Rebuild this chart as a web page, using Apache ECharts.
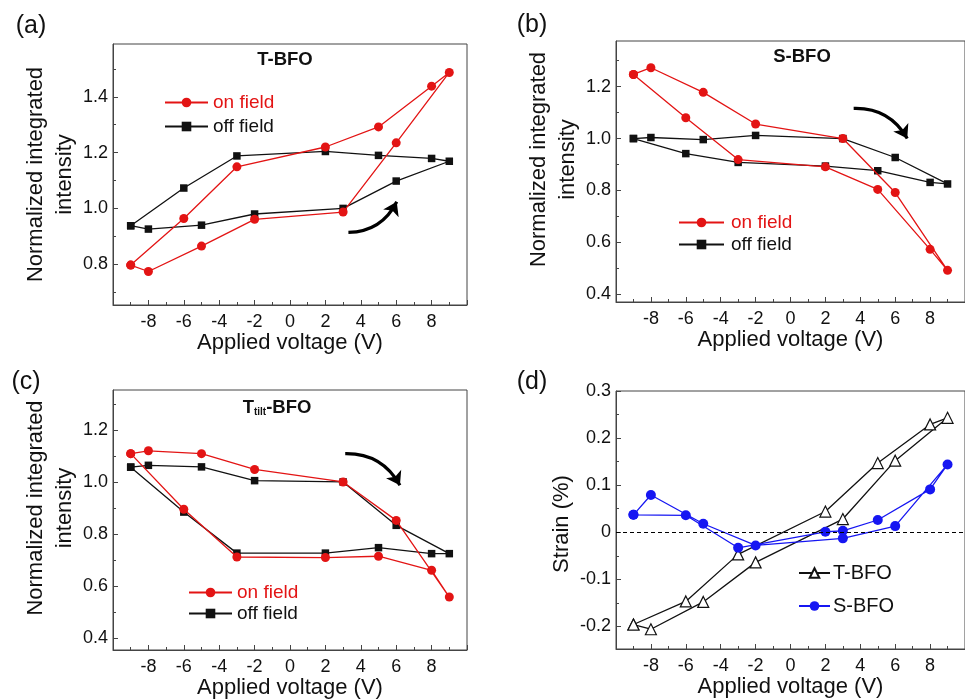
<!DOCTYPE html>
<html>
<head>
<meta charset="utf-8">
<script src="https://cdn.jsdelivr.net/npm/echarts@6/dist/echarts.min.js"></script>
<style>
html, body { margin: 0; padding: 0; background: #fff; }
#chart { width: 965px; height: 700px; }
</style>
</head>
<body>
<div id="chart"></div>
<script>
// voltage sweep order (V), panels a-c
var sweepABC = [-9, -8, -5, -2, 3, 6, 9, 8, 5, 2, -3, -6, -9];
// panel d sweep order
var sweepT = [-9, -6, -3, 2, 5, 8, 9, 6, 3, -2, -5, -8, -9];
var sweepS = [-9, -6, -3, 2, 3, 5, 8, 9, 6, 3, -2, -5, -8, -9];

// (a) T-BFO normalized integrated intensity
var onA  = [0.797, 0.774, 0.865, 0.961, 0.987, 1.235, 1.487, 1.438, 1.292, 1.220, 1.149, 0.964, 0.797];
var offA = [0.938, 0.926, 0.940, 0.980, 1.000, 1.098, 1.169, 1.179, 1.190, 1.204, 1.188, 1.073, 0.938];
// (b) S-BFO
var onB  = [1.247, 1.273, 1.178, 1.056, 1.000, 0.792, 0.492, 0.573, 0.804, 0.891, 0.919, 1.080, 1.247];
var offB = [1.000, 1.004, 0.996, 1.012, 1.000, 0.927, 0.825, 0.831, 0.876, 0.894, 0.908, 0.942, 1.000];
// (c) Ttilt-BFO
var onC  = [1.109, 1.120, 1.109, 1.048, 1.000, 0.852, 0.557, 0.660, 0.714, 0.709, 0.711, 0.895, 1.109];
var offC = [1.057, 1.064, 1.058, 1.005, 1.000, 0.833, 0.724, 0.724, 0.747, 0.726, 0.726, 0.884, 1.057];
// (d) strain (%)
var strainT = [-0.196, -0.147, -0.047, 0.044, 0.147, 0.229, 0.243, 0.152, 0.028, -0.064, -0.148, -0.206, -0.196];
var strainS = [0.037, 0.036, -0.033, 0.001, 0.003, 0.026, 0.091, 0.144, 0.013, -0.013, -0.028, 0.018, 0.079, 0.037];

// tick values
var yTicksA = [0.8, 1.0, 1.2, 1.4];
var yMinorA = [0.7, 0.9, 1.1, 1.3, 1.5];
var yTicksBC = [0.4, 0.6, 0.8, 1.0, 1.2];
var yMinorBC = [0.5, 0.7, 0.9, 1.1, 1.3];
var yTicksD = [-0.2, -0.1, 0, 0.1, 0.2, 0.3];
var yMinorD = [-0.25, -0.15, -0.05, 0.05, 0.15, 0.25];

// curved arrows (start, end) in data units
var arrowA = [[3.3, 0.914], [6.03, 1.024]];
var arrowB = [[3.62, 1.116], [6.69, 1.0]];
var arrowC = [[3.12, 1.109], [6.21, 0.987]];

var FONT = '"Liberation Sans", Arial, sans-serif';
var RED = '#e31414';
var BLK = '#111';
var BLUE = '#1616f2';
var AX = '#444';

function pts(xs, ys) {
    return xs.map(function (x, i) { return [x, ys[i]]; });
}

function xAxisFor(g) {
    return {
        type: 'value', gridIndex: g, min: -10, max: 10, interval: 2,
        axisLine: { show: true, onZero: false, lineStyle: { color: AX } },
        axisTick: { show: true, inside: true, length: 5, lineStyle: { color: AX } },
        minorTick: { show: true, splitNumber: 2, length: 3, lineStyle: { color: AX } },
        axisLabel: { fontSize: 18, color: BLK, margin: 8, showMinLabel: false, showMaxLabel: false },
        splitLine: { show: false },
        name: 'Applied voltage (V)', nameLocation: 'middle', nameGap: 25,
        nameTextStyle: { fontSize: 22, color: BLK }
    };
}

function yAxisFor(g, min, max, ticks, name, gap, shift) {
    return {
        type: 'value', gridIndex: g, min: min, max: max, position: 'left',
        axisLine: { show: true, onZero: false, lineStyle: { color: AX } },
        axisTick: { show: true, inside: true, length: 5, customValues: ticks, lineStyle: { color: AX } },
        axisLabel: {
            customValues: ticks, fontSize: 18, color: BLK, margin: 5,
            formatter: function (v) { return Math.abs(v) < 1e-9 ? '0' : v.toFixed(1); }
        },
        splitLine: { show: false },
        name: name, nameLocation: 'middle', nameGap: gap,
        nameTextStyle: {
            fontSize: 22, color: BLK, lineHeight: 29,
            padding: shift > 0 ? [0, 0, 0, shift] : [0, -shift, 0, 0]
        }
    };
}

function yMinorFor(g, min, max, ticks) {
    return {
        type: 'value', gridIndex: g, min: min, max: max, position: 'left', offset: 0,
        axisLine: { show: false, onZero: false },
        axisTick: { show: true, inside: true, length: 3, customValues: ticks, lineStyle: { color: AX } },
        axisLabel: { show: false },
        splitLine: { show: false }
    };
}

function loop(name, g, data, color, symbol, size) {
    return {
        name: name, type: 'line', xAxisIndex: g, yAxisIndex: g, data: data,
        symbol: symbol, symbolSize: size,
        itemStyle: { color: color },
        lineStyle: { color: color, width: 1.3 },
        z: name == 'on field' ? 3 : 2
    };
}

function arrow(g, coords, curve) {
    return {
        type: 'lines', coordinateSystem: 'cartesian2d', xAxisIndex: g, yAxisIndex: g,
        silent: true, symbol: ['none', 'arrow'], symbolSize: 13,
        lineStyle: { color: '#000', width: 3.2, opacity: 1, curveness: curve },
        data: [{ coords: coords }]
    };
}

var intensityName = 'Normalized integrated\nintensity';

var option = {
    animation: false,
    textStyle: { fontFamily: FONT },
    grid: [
        { left: 113, top: 44, width: 354, height: 261, show: true, borderColor: AX, borderWidth: 1 },
        { left: 616, top: 41, width: 358, height: 261, show: true, borderColor: AX, borderWidth: 1 },
        { left: 113, top: 390, width: 354, height: 260, show: true, borderColor: AX, borderWidth: 1 },
        { left: 616, top: 391, width: 358, height: 258, show: true, borderColor: AX, borderWidth: 1 }
    ],
    xAxis: [xAxisFor(0), xAxisFor(1), xAxisFor(2), xAxisFor(3)],
    yAxis: [
        yAxisFor(0, 0.654, 1.589, yTicksA, intensityName, 34, 0),
        yAxisFor(1, 0.37, 1.376, yTicksBC, intensityName, 34, 24),
        yAxisFor(2, 0.353, 1.354, yTicksBC, intensityName, 34, 24),
        yAxisFor(3, -0.248, 0.3, yTicksD, 'Strain (%)', 36, -8),
        yMinorFor(0, 0.654, 1.589, yMinorA),
        yMinorFor(1, 0.37, 1.376, yMinorBC),
        yMinorFor(2, 0.353, 1.354, yMinorBC),
        yMinorFor(3, -0.248, 0.3, yMinorD)
    ],
    legend: [
        {
            left: 159, top: 88, orient: 'vertical', itemWidth: 43, itemHeight: 12, itemGap: 5,
            textStyle: { fontSize: 19 },
            data: [{ name: 'on field', textStyle: { color: RED } }, { name: 'off field', textStyle: { color: BLK } }]
        },
        {
            left: 673, top: 208, orient: 'vertical', itemWidth: 45, itemHeight: 12, itemGap: 3,
            textStyle: { fontSize: 19, padding: [0, 0, 0, 2] },
            data: [{ name: 'on field', textStyle: { color: RED } }, { name: 'off field', textStyle: { color: BLK } }]
        },
        {
            left: 183, top: 578, orient: 'vertical', itemWidth: 43, itemHeight: 12, itemGap: 2,
            textStyle: { fontSize: 19, padding: [0, 0, 0, 0] },
            data: [{ name: 'on field', textStyle: { color: RED } }, { name: 'off field', textStyle: { color: BLK } }]
        },
        {
            left: 793, top: 558, orient: 'vertical', itemWidth: 31, itemHeight: 12, itemGap: 13,
            textStyle: { fontSize: 20, color: BLK, padding: [0, 0, 0, -2] },
            data: ['T-BFO', 'S-BFO']
        }
    ],
    graphic: [
        { type: 'text', x: 31, y: 26, style: { text: '(a)', fontSize: 25, fontFamily: FONT, fill: BLK, align: 'center', verticalAlign: 'middle' } },
        { type: 'text', x: 532, y: 25, style: { text: '(b)', fontSize: 25, fontFamily: FONT, fill: BLK, align: 'center', verticalAlign: 'middle' } },
        { type: 'text', x: 26, y: 382, style: { text: '(c)', fontSize: 25, fontFamily: FONT, fill: BLK, align: 'center', verticalAlign: 'middle' } },
        { type: 'text', x: 532, y: 382, style: { text: '(d)', fontSize: 25, fontFamily: FONT, fill: BLK, align: 'center', verticalAlign: 'middle' } },
        { type: 'text', x: 285, y: 60, style: { text: 'T-BFO', fontSize: 18.5, fontWeight: 'bold', fontFamily: FONT, fill: BLK, align: 'center', verticalAlign: 'middle' } },
        { type: 'text', x: 802, y: 57, style: { text: 'S-BFO', fontSize: 18.5, fontWeight: 'bold', fontFamily: FONT, fill: BLK, align: 'center', verticalAlign: 'middle' } },
        {
            type: 'text', x: 277, y: 408,
            style: {
                text: '{a|T}{b|tilt}{a|-BFO}', fontFamily: FONT, fill: BLK, align: 'center', verticalAlign: 'middle',
                rich: {
                    a: { fontSize: 18.5, fontWeight: 'bold', fontFamily: FONT, fill: BLK },
                    b: { fontSize: 10, fontWeight: 'bold', fontFamily: FONT, fill: BLK, padding: [9, 0, 0, 0] }
                }
            }
        }
    ],
    series: [
        loop('on field', 0, pts(sweepABC, onA), RED, 'circle', 9),
        loop('off field', 0, pts(sweepABC, offA), BLK, 'rect', 7.5),
        loop('on field', 1, pts(sweepABC, onB), RED, 'circle', 9),
        loop('off field', 1, pts(sweepABC, offB), BLK, 'rect', 7.5),
        loop('on field', 2, pts(sweepABC, onC), RED, 'circle', 9),
        loop('off field', 2, pts(sweepABC, offC), BLK, 'rect', 7.5),
        {
            name: 'T-BFO', type: 'line', xAxisIndex: 3, yAxisIndex: 3, data: pts(sweepT, strainT),
            symbol: 'triangle', symbolSize: 11,
            itemStyle: { color: '#fff', borderColor: BLK, borderWidth: 1.2 },
            lineStyle: { color: BLK, width: 1.3 }
        },
        {
            name: 'S-BFO', type: 'line', xAxisIndex: 3, yAxisIndex: 3, data: pts(sweepS, strainS),
            symbol: 'circle', symbolSize: 10,
            itemStyle: { color: BLUE },
            lineStyle: { color: BLUE, width: 1.3 },
            markLine: {
                silent: true, symbol: 'none', label: { show: false },
                lineStyle: { color: '#000', width: 1, type: [4, 3] },
                data: [{ yAxis: 0 }]
            }
        },
        arrow(0, arrowA, -0.3),
        arrow(1, arrowB, 0.3),
        arrow(2, arrowC, 0.3)
    ]
};

var myChart = echarts.init(document.getElementById('chart'));
myChart.setOption(option);
</script>
</body>
</html>
